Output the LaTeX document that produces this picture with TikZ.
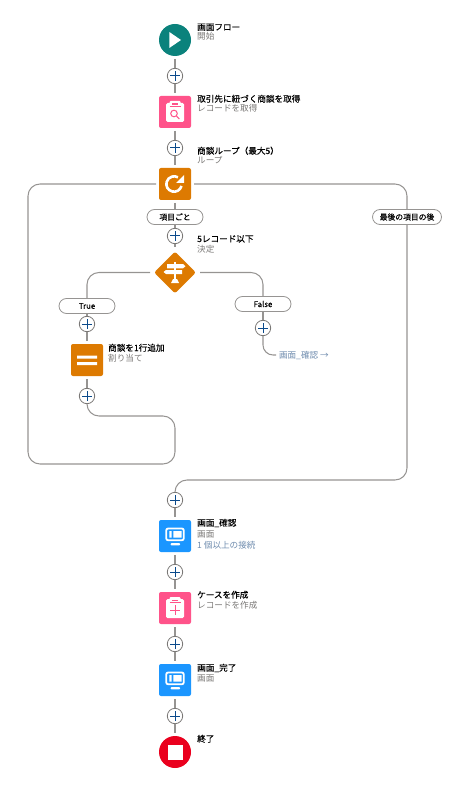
\documentclass[tikz,border=0pt]{standalone}
\usepackage{fontspec}
\setmainfont{Noto Sans CJK JP}
\newfontfamily\titlefont[FakeBold=0.3]{Noto Sans CJK JP}
\usetikzlibrary{shapes.geometric}
\definecolor{startgreen}{HTML}{0B827C}
\definecolor{recpink}{HTML}{FF538A}
\definecolor{logicorange}{HTML}{DD7A01}
\definecolor{screenblue}{HTML}{1B96FF}
\definecolor{endred}{HTML}{EA001E}
\definecolor{linegray}{HTML}{969492}
\definecolor{plusblue}{HTML}{0B4A8B}
\definecolor{subgray}{HTML}{7A7876}
\definecolor{linkblue}{HTML}{6F8CAE}
\begin{document}
\begin{tikzpicture}[x=1pt,y=-1pt,
  tile/.style={rectangle,rounded corners=2pt,minimum size=32pt,inner sep=0pt,outer sep=3pt},
  disc/.style={circle,minimum size=32pt,inner sep=0pt,outer sep=3pt},
  sign/.style={diamond,rounded corners=2pt,fill=logicorange,minimum size=44pt,inner sep=0pt,outer sep=3pt},
  addbtn/.style={circle,draw=subgray,line width=0.8pt,fill=white,minimum size=15.4pt,inner sep=0pt},
  pill/.style={rectangle,rounded corners=7.5pt,draw=linegray,line width=0.8pt,fill=white,minimum height=15pt,inner sep=0pt,font=\fontsize{7.8}{9}\titlefont},
  conn/.style={draw=linegray,line width=1.05pt},
  ttl/.style={anchor=base west,inner sep=0pt,font=\fontsize{8.6}{10}\titlefont},
  subl/.style={anchor=base west,inner sep=0pt,text=subgray,font=\fontsize{8.6}{10}\selectfont},
  link/.style={subl,text=linkblue}]
  \useasboundingbox (0,0) rectangle (463,791);
  % clipboard: body and clip, then the mark goes on top
  \newcommand{\board}[1]{%
    \begin{scope}[shift={(#1)}]
      \fill[white,rounded corners=1.5pt] (-9,-9) rectangle (9,10);
      \fill[white,rounded corners=1pt] (-5.5,-11) rectangle (5.5,-5);
      \fill[recpink] (-3,-8.5) rectangle (3,-7);
      \draw[recpink,line width=0.8pt] (-5.5,-5.4) -- (5.5,-5.4);
    \end{scope}}
  % monitor with two panes and a foot
  \newcommand{\monitor}[1]{%
    \begin{scope}[shift={(#1)}]
      \draw[white,line width=1.8pt,rounded corners=2pt] (-8.8,-7.5) rectangle (8.8,4.3);
      \fill[white] (-5.7,-5) rectangle (-3.3,1.5) (-1.7,-5) rectangle (6.5,1.5);
      \fill[white,rounded corners=0.8pt] (-4.3,7) rectangle (5,9.4);
    \end{scope}}

  \node[disc,fill=startgreen] (flowStart) at (175,40) {};
  \node[addbtn] (addA) at (175,76) {};
  \node[tile,fill=recpink] (getRec) at (175,112) {};
  \node[addbtn] (addB) at (175,148) {};
  \node[tile,fill=logicorange] (loopBox) at (175,184) {};
  \node[pill,minimum width=56pt] (pillEach) at (175,217) {項目ごと};
  \node[addbtn] (addC) at (175,236) {};
  \node[sign] (decide) at (175,272.5) {};
  \node[pill,minimum width=56pt] (pillTrue) at (87,306) {True};
  \node[addbtn] (addD) at (87,324) {};
  \node[tile,fill=logicorange] (assign) at (87,360) {};
  \node[addbtn] (addE) at (87,396) {};
  \node[pill,minimum width=56pt] (pillFalse) at (263,304) {False};
  \node[addbtn] (addF) at (263,328) {};
  \node[link,anchor=west,outer sep=3pt] (jumpText) at (276,355) {画面\_確認 →};
  \node[pill,minimum width=69pt] (pillAfter) at (407,217) {最後の項目の後};
  \node[addbtn] (addG) at (175,500) {};
  \node[tile,fill=screenblue] (screenA) at (175,536) {};
  \node[addbtn] (addH) at (175,572) {};
  \node[tile,fill=recpink] (createCase) at (175,608) {};
  \node[addbtn] (addI) at (175,644) {};
  \node[tile,fill=screenblue] (screenB) at (175,680) {};
  \node[addbtn] (addJ) at (175,716) {};
  \node[disc,fill=endred] (flowEnd) at (175,752) {};

  \coordinate (backA) at (175,416); \coordinate (backB) at (175,464);
  \coordinate (backC) at (28,464); \coordinate (backD) at (28,184);
  \coordinate (afterA) at (407,184); \coordinate (afterB) at (407,480);
  \coordinate (afterC) at (175,480);

  \draw[conn] (flowStart)--(addA); \draw[conn] (addA)--(getRec);
  \draw[conn] (getRec)--(addB); \draw[conn] (addB)--(loopBox);
  \draw[conn] (loopBox)--(pillEach); \draw[conn] (pillEach)--(addC);
  \draw[conn] (addC)--(decide);
  \draw[conn,rounded corners=12pt] (decide.west) -| (pillTrue.north);
  \draw[conn] (pillTrue)--(addD); \draw[conn] (addD)--(assign);
  \draw[conn] (assign)--(addE);
  \draw[conn,rounded corners=12pt] (decide.east) -| (pillFalse.north);
  \draw[conn] (pillFalse)--(addF);
  \draw[conn,rounded corners=10pt] (addF.south) |- (jumpText.west);
  \draw[conn,rounded corners=12pt] (addE.south) |- (backA) -- (backB) -- (backC) -- (backD) -- (loopBox.west);
  \draw[conn,rounded corners=12pt] (loopBox.east) -- (afterA) -- (pillAfter.north);
  \draw[conn,rounded corners=12pt] (pillAfter.south) -- (afterB) -- (afterC) -- (addG.north);
  \draw[conn] (addG)--(screenA); \draw[conn] (screenA)--(addH);
  \draw[conn] (addH)--(createCase); \draw[conn] (createCase)--(addI);
  \draw[conn] (addI)--(screenB); \draw[conn] (screenB)--(addJ);
  \draw[conn] (addJ)--(flowEnd);

  \foreach \q in {addA,addB,addC,addD,addE,addF,addG,addH,addI,addJ}
    \draw[plusblue,line width=1pt] ([xshift=-5pt]\q.center) -- ([xshift=5pt]\q.center)
      ([yshift=-5pt]\q.center) -- ([yshift=5pt]\q.center);

  % icons
  \fill[white] (169.3,32) -- (181,40) -- (169.3,48) -- cycle;
  \board{getRec}
  \draw[recpink,line width=1pt] (174,113.5) circle (3.3pt) (176.3,115.8) -- (179.3,119);
  \draw[white,line width=2.6pt] (181.5,186) arc[start angle=-15,end angle=-300,radius=7.7pt];
  \fill[white] (184,175) -- (184,183) -- (176,183) -- cycle;
  \fill[white] (174,262) rectangle (176,280);
  \fill[white] (167,264) -- (183,264) -- (185.5,266.2) -- (183,268.3) -- (167,268.3) -- cycle;
  \fill[white] (166,270) -- (182,270) -- (182,274) -- (166,274) -- (163.5,272) -- cycle;
  \fill[white] (171,283) -- (173,279) -- (177,279) -- (179,283) -- cycle;
  \fill[white] (77,355.5) rectangle (97,358.5) (77,362) rectangle (97,365);
  \monitor{screenA}
  \board{createCase}
  \draw[recpink,line width=1pt] (175,605) -- (175,615) (170,610) -- (180,610);
  \monitor{screenB}
  \fill[white] (167.5,744.5) rectangle (182.5,759.5);

  % labels
  \node[ttl] (startTitle) at (197,30.3) {画面フロー};
  \node[subl] (startSub) at (197,40) {開始};
  \node[ttl] (getTitle) at (197,102) {取引先に紐づく商談を取得};
  \node[subl] (getSub) at (197,112) {レコードを取得};
  \node[ttl] (loopTitle) at (197,154) {商談ループ（最大5）};
  \node[subl] (loopSub) at (197,164) {ループ};
  \node[ttl] (signTitle) at (197,242) {5レコード以下};
  \node[subl] (signSub) at (197,252) {決定};
  \node[ttl] (assignTitle) at (108,351) {商談を1行追加};
  \node[subl] (assignSub) at (108,361) {割り当て};
  \node[ttl] (screenATitle) at (197,526) {画面\_確認};
  \node[subl] (screenASub) at (197,537) {画面};
  \node[link] (screenAConn) at (197,548) {1 個以上の接続};
  \node[ttl] (caseTitle) at (197,598) {ケースを作成};
  \node[subl] (caseSub) at (197,608) {レコードを作成};
  \node[ttl] (screenBTitle) at (197,671) {画面\_完了};
  \node[subl] (screenBSub) at (197,681) {画面};
  \node[ttl] (endTitle) at (197,742) {終了};
\end{tikzpicture}
\end{document}
